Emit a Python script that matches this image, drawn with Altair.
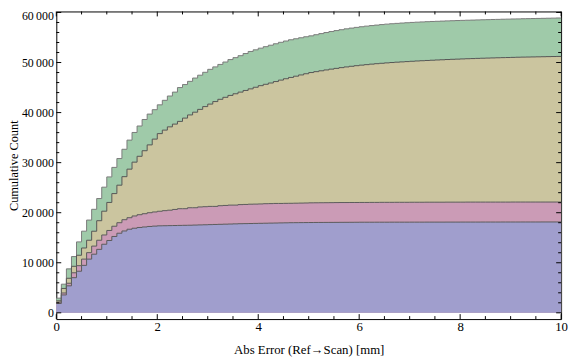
import altair as alt
import pandas as pd

# Histogram bins: width 0.1 mm from 0 to 10 mm
bin_starts = [round(i * 0.1, 1) for i in range(100)]
x_end = 10.0

# Cumulative counts (top edge of each stacked band)
green_top = [2930, 5720, 8780, 11240, 14170, 16310, 18530, 20680, 22830, 25100,
             27150, 29050, 30820, 32670, 34500, 36030, 37320, 38620, 39700, 40580,
             41550, 42450, 43310, 44090, 45000, 45600, 46240, 46900, 47470, 48050,
             48640, 49130, 49620, 50100, 50590, 50980, 51370, 51800, 52210, 52540,
             52870, 53170, 53460, 53750, 54040, 54300, 54550, 54750, 54950, 55150,
             55330, 55560, 55780, 55990, 56190, 56380, 56560, 56730, 56880, 57020,
             57150, 57270, 57380, 57480, 57580, 57670, 57750, 57820, 57890, 57950,
             58010, 58060, 58110, 58160, 58200, 58240, 58280, 58320, 58350, 58390,
             58420, 58450, 58480, 58510, 58540, 58570, 58600, 58620, 58650, 58670,
             58700, 58720, 58750, 58770, 58790, 58810, 58830, 58850, 58870, 58900]

yellow_top = [2400, 4870, 6900, 9290, 11500, 12950, 14500, 16300, 18400, 20300,
              22050, 23820, 25500, 27200, 28700, 30100, 31270, 32380, 33550, 34700,
              35800, 36500, 37150, 37700, 38240, 38900, 39530, 40080, 40640, 41200,
              41700, 42200, 42650, 43050, 43430, 43760, 44090, 44420, 44740, 45060,
              45380, 45650, 45910, 46200, 46490, 46760, 47020, 47270, 47520, 47760,
              48000, 48180, 48350, 48520, 48680, 48830, 48980, 49120, 49250, 49370,
              49480, 49580, 49680, 49770, 49850, 49930, 50000, 50070, 50130, 50190,
              50250, 50310, 50360, 50410, 50460, 50510, 50550, 50600, 50640, 50680,
              50720, 50760, 50790, 50830, 50860, 50890, 50920, 50950, 50980, 51000,
              51030, 51060, 51080, 51100, 51120, 51140, 51160, 51180, 51200, 51220]

pink_top = [2140, 3960, 5910, 8000, 9420, 10730, 12020, 13330, 14500, 15550,
            16450, 17300, 18000, 18600, 19000, 19350, 19600, 19800, 20000, 20150,
            20290, 20410, 20500, 20650, 20800, 20800, 20990, 20990, 21150, 21200,
            21260, 21260, 21400, 21450, 21520, 21520, 21620, 21650, 21700, 21720,
            21750, 21800, 21820, 21850, 21850, 21870, 21880, 21900, 21920, 21940,
            21970, 21980, 21990, 22000, 22010, 22020, 22030, 22030, 22040, 22040,
            22050, 22050, 22060, 22060, 22070, 22070, 22070, 22080, 22080, 22080,
            22090, 22090, 22090, 22100, 22100, 22100, 22100, 22110, 22110, 22110,
            22110, 22120, 22120, 22120, 22120, 22120, 22120, 22120, 22120, 22120,
            22130, 22130, 22130, 22130, 22130, 22130, 22130, 22130, 22130, 22130]

blue_top = [1870, 3570, 5390, 7020, 8310, 9480, 10730, 11710, 12680, 13700,
            14450, 15250, 15900, 16350, 16700, 16900, 17050, 17150, 17250, 17320,
            17380, 17400, 17420, 17440, 17460, 17480, 17500, 17530, 17560, 17590,
            17620, 17650, 17680, 17710, 17740, 17770, 17800, 17820, 17840, 17860,
            17880, 17900, 17920, 17940, 17960, 17980, 18000, 18010, 18020, 18030,
            18040, 18050, 18055, 18060, 18065, 18070, 18075, 18080, 18085, 18090,
            18100, 18100, 18100, 18105, 18105, 18105, 18110, 18110, 18110, 18110,
            18115, 18115, 18115, 18120, 18120, 18120, 18120, 18125, 18125, 18125,
            18130, 18130, 18130, 18130, 18135, 18135, 18135, 18135, 18140, 18140,
            18140, 18140, 18145, 18145, 18145, 18145, 18150, 18150, 18150, 18150]

series_names = ["green", "yellow", "pink", "blue"]
series_values = [green_top, yellow_top, pink_top, blue_top]
fill_colors = ["#9fcaa9", "#cbc59f", "#cb9bb6", "#a09ecd"]
edge_colors = ["#7a7a7a", "#555555", "#5a5a5a", "#5a5a5a"]

x_major = [0, 2, 4, 6, 8, 10]
x_minor = [0.5, 1, 1.5, 2.5, 3, 3.5, 4.5, 5, 5.5, 6.5, 7, 7.5, 8.5, 9, 9.5]
y_major = [0, 10000, 20000, 30000, 40000, 50000, 60000]
y_minor = [2000, 4000, 6000, 8000, 12000, 14000, 16000, 18000, 22000, 24000,
           26000, 28000, 32000, 34000, 36000, 38000, 42000, 44000, 46000, 48000,
           52000, 54000, 56000, 58000]

FONT = "Liberation Serif"
W, H = 512, 312

xs = alt.Scale(domain=[0, 10], nice=False, zero=False)
ys = alt.Scale(domain=[-1250, 60200], nice=False, zero=False)

x_axis = alt.Axis(values=x_major, ticks=False, domain=False, grid=False,
                  labelFlush=False, labelFont=FONT, labelFontSize=13,
                  labelColor="black", labelPadding=2,
                  title="Abs Error (Ref\u2192Scan) [mm]", titleFont=FONT,
                  titleFontSize=13, titleFontWeight="normal", titleColor="black",
                  titleY=31, titleBaseline="middle")
y_axis = alt.Axis(values=y_major, ticks=False, domain=False, grid=False,
                  labelFlush=False, labelFont=FONT, labelFontSize=12,
                  labelColor="black", labelPadding=3,
                  labelExpr="replace(format(datum.value, ','), ',', '\u2009')",
                  labelOffset={"condition": {"test": "datum.value == 60000", "value": 3}, "value": 0},
                  title="Cumulative Count", titleFont=FONT, titleFontSize=12.5,
                  titleFontWeight="normal", titleColor="black",
                  titleX=-43, titleBaseline="middle")

X = alt.X("x:Q", scale=xs, axis=x_axis)
Y = alt.Y("value:Q", scale=ys, axis=y_axis)

layers = []
for name, vals, fc, ec in zip(series_names, series_values, fill_colors, edge_colors):
    df = pd.DataFrame({"x": bin_starts + [x_end], "value": vals + [vals[-1]]})
    base = alt.Chart(df)
    layers.append(base.mark_area(interpolate="step-after", color=fc, opacity=1)
                  .encode(x=X, y=Y, y2=alt.datum(0)))
    layers.append(base.mark_line(interpolate="step-after", color=ec, strokeWidth=1)
                  .encode(x=X, y=Y))

def xticks(vals, length):
    d = alt.Chart(pd.DataFrame({"x": vals}))
    return [d.mark_rule(color="black", strokeWidth=1).encode(x=X, y=alt.value(H), y2=alt.value(H - length)),
            d.mark_rule(color="black", strokeWidth=1).encode(x=X, y=alt.value(0), y2=alt.value(length))]

def yticks(vals, length):
    d = alt.Chart(pd.DataFrame({"value": vals}))
    return [d.mark_rule(color="black", strokeWidth=1).encode(y=Y, x=alt.value(0), x2=alt.value(length)),
            d.mark_rule(color="black", strokeWidth=1).encode(y=Y, x=alt.value(W), x2=alt.value(W - length))]

layers += xticks(x_major, 5) + xticks(x_minor, 3) + yticks(y_major, 5) + yticks(y_minor, 3)

chart = alt.layer(*layers).properties(
    width=W, height=H,
    autosize=alt.AutoSizeParams(type="none"),
    padding={"left": 49, "top": 1, "right": 7, "bottom": 40},
    background="white",
).configure_view(stroke="black", strokeWidth=1)

chart.save("out.html", embed_options={"renderer": "svg", "actions": False})
